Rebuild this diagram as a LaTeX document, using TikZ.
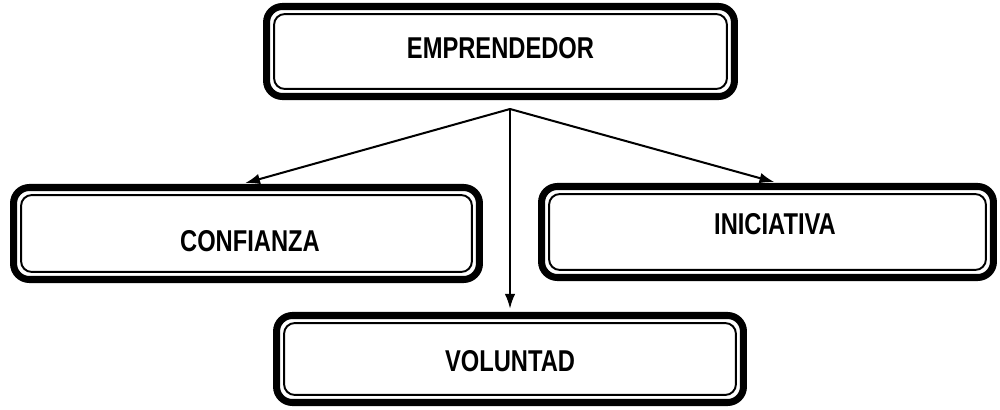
\documentclass[tikz,border=0pt]{standalone}
\usepackage{fontspec}
\usepackage{graphicx}
\setmainfont{Liberation Sans}
\usetikzlibrary{arrows.meta}

% condensed look of the labels, raised by the optional argument
\newcommand{\etiq}[2][0cm]{\raisebox{#1}{\scalebox{1}[1.27]{#2}}}

\tikzset{
	caja/.style={draw, line width=4pt, rounded corners=9pt, inner sep=0pt,
		text height=12.3pt, text depth=0pt,
		font=\fontsize{13.5}{16}\selectfont\bfseries,
		path picture={\draw[line width=1.1pt, rounded corners=6pt]
			([shift={(4.3pt,-4.3pt)}]path picture bounding box.north west) rectangle
			([shift={(-4.3pt,4.3pt)}]path picture bounding box.south east);}},
	flecha/.style={-{Latex[length=8.5pt,width=6pt]}, line width=1.15pt, shorten >=1.8pt}
}

\begin{document}
\begin{tikzpicture}[x=0.02cm,y=-0.02cm]
	\useasboundingbox (0,0) rectangle (1000,409);
	\node[caja, minimum width=9.36cm, minimum height=1.8cm] at (500.5,51.5) (empr) {\etiq[0.08cm]{EMPRENDEDOR}};
	\node[caja, minimum width=9.32cm, minimum height=1.84cm] at (246.5,233.5) (conf) {\etiq[-0.15cm]{\hspace*{0.14cm}CONFIANZA}};
	\node[caja, minimum width=9.04cm, minimum height=1.82cm] at (767.5,232) (inic) {\etiq[0.16cm]{\hspace*{0.3cm}INICIATIVA}};
	\node[caja, minimum width=9.34cm, minimum height=1.74cm] at (510,359) (volu) {\etiq[-0.04cm]{VOLUNTAD}};
	\coordinate (hub) at (510,109);
	\draw[flecha] (hub) -- ([xshift=-0.09cm]conf.north);
	\draw[flecha] (hub) -- (volu.north);
	\draw[flecha] (hub) -- ([xshift=0.2cm]inic.north);
\end{tikzpicture}
\end{document}
